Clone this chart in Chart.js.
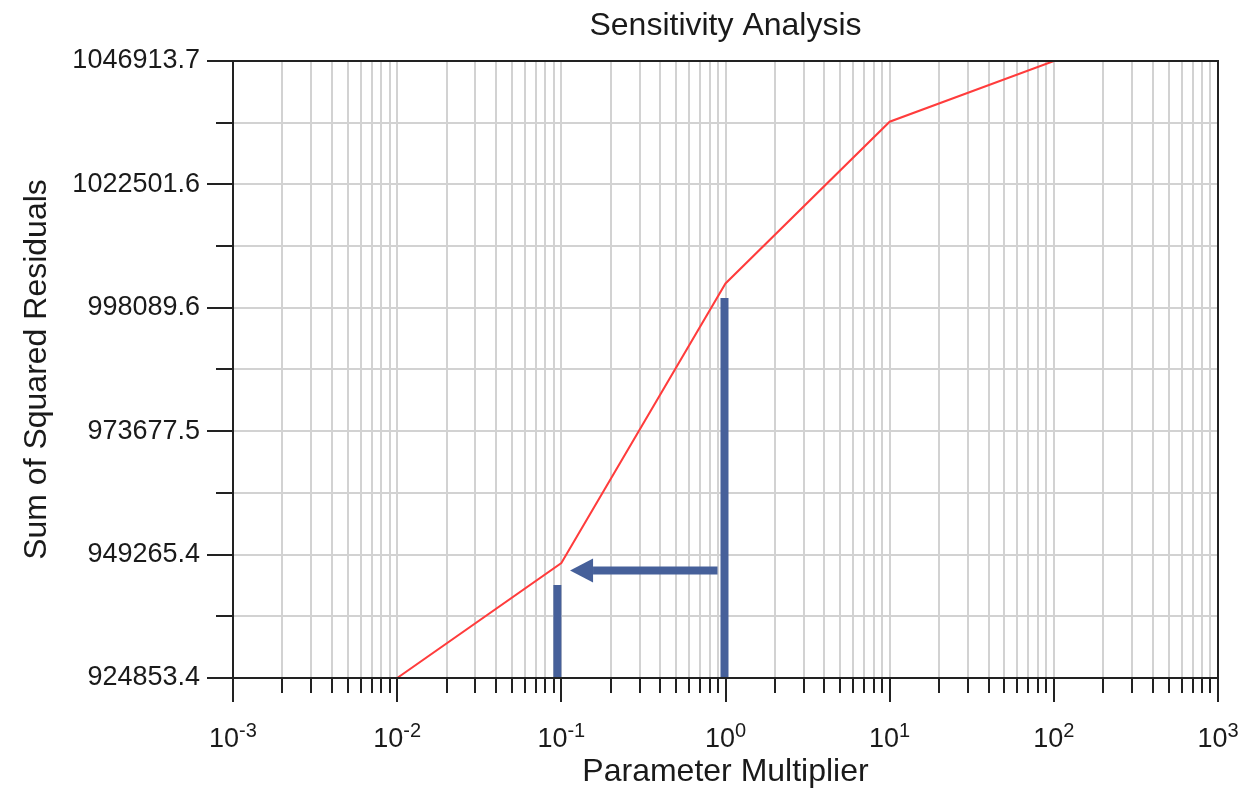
<!DOCTYPE html>
<html>
<head>
<meta charset="utf-8">
<script src="https://cdn.jsdelivr.net/npm/chart.js@4.4.1/dist/chart.umd.min.js"></script>
<style>
  html, body { margin: 0; padding: 0; background: #fff; }
  #wrap { width: 1245px; height: 793px; }
</style>
</head>
<body>
<div id="wrap"><canvas id="chart"></canvas></div>
<script>
// values
const multipliers = [0.01, 0.1, 1, 10, 100];
const residuals = [924853.4, 947600, 1002900, 1034900, 1046913.7];

const yTickLabels = ['924853.4', '949265.4', '973677.5', '998089.6', '1022501.6', '1046913.7'];
const xDecades = [-3, -2, -1, 0, 1, 2, 3];

// blue markup on top of the plot (data units)
const markLow = [{x: 0.0946, y: 924853.4}, {x: 0.0946, y: 943250}];
const markHigh = [{x: 0.986, y: 924853.4}, {x: 0.986, y: 1000050}];
const arrowShaft = [{x: 0.894, y: 946120}, {x: 0.156, y: 946120}];

const BLUE = '#46609a';
const INK = '#1a1a1a';
const FONT = "Arial, 'Liberation Sans', sans-serif";

// major + half-way minor ticks on y
const yMajor = yTickLabels.map(Number);
const yTicks = [];
yMajor.forEach((v, i) => {
    yTicks.push({ value: v, label: yTickLabels[i], major: true });
    if (i < yMajor.length - 1) {
        yTicks.push({ value: (v + yMajor[i + 1]) / 2, label: '', major: false });
    }
});

// log ticks 1..9 per decade
const xTicks = [];
xDecades.forEach((p, i) => {
    for (let m = 1; m <= 9; m++) {
        if (m > 1 && i === xDecades.length - 1) break;
        xTicks.push({ value: m * Math.pow(10, p), major: m === 1, exp: p });
    }
});

const decor = {
    id: 'decor',
    afterDatasetsDraw(chart) {
        const { ctx, chartArea: a, scales: { x, y } } = chart;
        ctx.save();

        // frame
        ctx.strokeStyle = '#222';
        ctx.lineWidth = 2;
        ctx.strokeRect(a.left, a.top, a.right - a.left, a.bottom - a.top);

        // tick marks
        ctx.beginPath();
        yTicks.forEach(t => {
            const py = Math.round(y.getPixelForValue(t.value));
            ctx.moveTo(a.left - (t.major ? 26 : 17), py);
            ctx.lineTo(a.left, py);
        });
        xTicks.forEach(t => {
            const px = Math.round(x.getPixelForValue(t.value));
            ctx.moveTo(px, a.bottom);
            ctx.lineTo(px, a.bottom + (t.major ? 24 : 15));
        });
        ctx.stroke();

        // 10^n labels
        ctx.fillStyle = INK;
        ctx.textBaseline = 'alphabetic';
        ctx.textAlign = 'left';
        xTicks.filter(t => t.major).forEach(t => {
            const px = x.getPixelForValue(t.value);
            ctx.font = '27px ' + FONT;
            const wBase = ctx.measureText('10').width;
            ctx.font = '20px ' + FONT;
            const expText = t.exp < 0 ? '-' + (-t.exp) : String(t.exp);
            const wExp = ctx.measureText(expText).width;
            const x0 = px - (wBase + wExp) / 2;
            ctx.font = '27px ' + FONT;
            ctx.fillText('10', x0, a.bottom + 69);
            ctx.font = '20px ' + FONT;
            ctx.fillText(expText, x0 + wBase, a.bottom + 59);
        });

        // arrowhead at the end of the shaft
        const pts = chart.getDatasetMeta(3).data;
        const end = pts[pts.length - 1];
        const prev = pts[pts.length - 2];
        const ang = Math.atan2(end.y - prev.y, end.x - prev.x);
        ctx.translate(end.x, end.y);
        ctx.rotate(ang);
        ctx.beginPath();
        ctx.moveTo(23, 0);
        ctx.lineTo(0, -12);
        ctx.lineTo(0, 12);
        ctx.closePath();
        ctx.fillStyle = BLUE;
        ctx.fill();

        ctx.restore();
    }
};

const ctx = document.getElementById('chart').getContext('2d');

new Chart(ctx, {
    type: 'line',
    data: {
        datasets: [
            {
                label: 'SSR',
                data: multipliers.map((m, i) => ({ x: m, y: residuals[i] })),
                borderColor: '#ff3c3c',
                borderWidth: 2,
                pointRadius: 0,
                tension: 0
            },
            { data: markLow, borderColor: BLUE, borderWidth: 8, pointRadius: 0 },
            { data: markHigh, borderColor: BLUE, borderWidth: 8, pointRadius: 0 },
            { data: arrowShaft, borderColor: BLUE, borderWidth: 8, pointRadius: 0 }
        ]
    },
    options: {
        responsive: true,
        maintainAspectRatio: false,
        animation: false,
        events: [],
        layout: { padding: { left: 0, right: 27, top: 0, bottom: 0 } },
        plugins: {
            legend: { display: false },
            tooltip: { enabled: false },
            title: {
                display: true,
                fullSize: false,
                text: 'Sensitivity Analysis',
                color: INK,
                font: { family: FONT, size: 32, weight: 'normal' },
                padding: { top: 7, bottom: 15.6 }
            }
        },
        scales: {
            x: {
                type: 'logarithmic',
                min: 0.001,
                max: 1000,
                afterBuildTicks: s => { s.ticks = xTicks.map(t => ({ value: t.value })); },
                afterFit: s => { s.height = 115; },
                ticks: { display: false },
                grid: { color: '#d2d2d2', lineWidth: 2, drawTicks: false },
                border: { display: false },
                title: {
                    display: true,
                    text: 'Parameter Multiplier',
                    color: INK,
                    font: { family: FONT, size: 32 },
                    padding: { top: 0, bottom: 2 }
                }
            },
            y: {
                min: yMajor[0],
                max: yMajor[yMajor.length - 1],
                afterBuildTicks: s => { s.ticks = yTicks.map(t => ({ value: t.value })); },
                afterFit: s => { s.width = 233; },
                ticks: {
                    autoSkip: false,
                    padding: 33,
                    color: INK,
                    font: { family: FONT, size: 27 },
                    callback: (v, i) => yTicks[i] ? yTicks[i].label : ''
                },
                grid: { color: '#d2d2d2', lineWidth: 2, drawTicks: false },
                border: { display: false },
                title: {
                    display: true,
                    text: 'Sum of Squared Residuals',
                    color: INK,
                    font: { family: FONT, size: 32 },
                    padding: { top: 18, bottom: 0 }
                }
            }
        }
    },
    plugins: [decor]
});
</script>
</body>
</html>
